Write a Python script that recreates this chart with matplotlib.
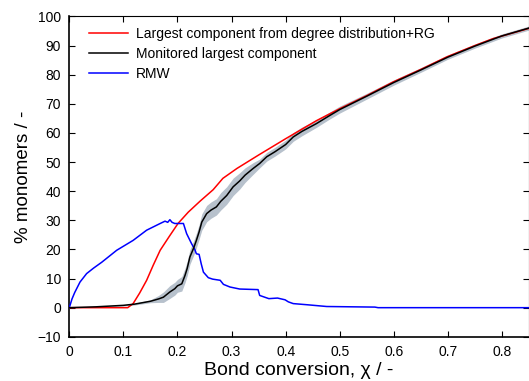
import matplotlib
matplotlib.use("Agg")
import matplotlib.pyplot as plt
import numpy as np

plt.rcParams['font.family'] = ['Liberation Sans', 'DejaVu Sans']

# Largest component from degree distribution + RG (red)
red_x = [0, 0.108, 0.118, 0.13, 0.143, 0.155, 0.168, 0.185, 0.201, 0.22, 0.242, 0.266,
         0.284, 0.31, 0.35, 0.4, 0.457, 0.5, 0.55, 0.599, 0.65, 0.698, 0.75,
         0.784, 0.85]
red_y = [0, 0, 1.4, 5, 9.4, 14.5, 19.7, 24.5, 28.9, 32.8, 36.6, 40.5,
         44.4, 47.8, 52.4, 58.0, 64.2, 68.3, 72.8, 77.5, 81.8, 86.1, 90,
         92.4, 95.9]

# Monitored largest component (black) with spread (grey)
black_x = [0, 0.05, 0.1, 0.12, 0.15, 0.165, 0.174, 0.18, 0.186, 0.195, 0.2, 0.208,
           0.214, 0.218, 0.223, 0.23, 0.235, 0.24, 0.245, 0.25, 0.254, 0.262, 0.272,
           0.28, 0.291, 0.303, 0.315, 0.325, 0.34, 0.352, 0.365, 0.38, 0.4, 0.414,
           0.43, 0.457, 0.48, 0.5, 0.55, 0.6, 0.65, 0.7, 0.75, 0.8, 0.85]
black_y = [0, 0.3, 0.8, 1.2, 2.2, 3.0, 3.6, 4.5, 5.4, 6.5, 7.5, 8.2,
           11.1, 13.5, 17.4, 20.5, 23.1, 26.0, 29.4, 31.0, 32.3, 33.5, 34.6,
           36.5, 38.5, 41.5, 43.5, 45.5, 47.8, 49.5, 51.8, 53.5, 56.0, 58.6,
           60.5, 63.2, 65.8, 68.0, 72.6, 77.3, 81.6, 86.0, 89.8, 93.3, 96.0]
black_err = [0, 0.1, 0.2, 0.3, 0.5, 1.2, 1.8, 2.0, 2.2, 2.2, 2.2, 2.5,
             2.5, 2.5, 2.5, 2.5, 2.5, 2.5, 2.8, 2.8, 2.8, 2.8, 2.8,
             3.0, 3.0, 3.0, 2.8, 2.5, 2.0, 1.5, 1.5, 1.5, 1.5, 1.5,
             1.5, 1.3, 1.2, 1.2, 1.0, 0.9, 0.8, 0.7, 0.7, 0.7, 0.7]

# RMW (blue)
blue_x = [0, 0.005, 0.01, 0.0198, 0.032, 0.045, 0.06, 0.0876, 0.118, 0.143, 0.168,
          0.177, 0.182, 0.186, 0.19, 0.195, 0.211, 0.217, 0.226, 0.232, 0.235, 0.24,
          0.244, 0.248, 0.257, 0.265, 0.279, 0.285, 0.297, 0.315, 0.349, 0.352, 0.369,
          0.385, 0.399, 0.405, 0.414, 0.44, 0.476, 0.52, 0.565, 0.571, 0.85]
blue_y = [0, 3.0, 5.2, 8.8, 11.7, 13.6, 15.6, 19.7, 23.1, 26.6, 28.9,
          29.7, 29.3, 30.2, 29.3, 28.9, 28.9, 25.4, 22.0, 20.0, 18.5, 18.3,
          15.0, 12.2, 10.3, 9.8, 9.4, 8.0, 7.1, 6.4, 6.2, 4.2, 3.1,
          3.3, 2.7, 2.0, 1.4, 1.0, 0.4, 0.3, 0.2, 0, 0]

labels = ["Largest component from degree distribution+RG",
          "Monitored largest component", "RMW"]

fig = plt.figure(figsize=(5.29, 3.81), dpi=100)
ax = fig.add_axes([0.131, 0.116, 0.869, 0.841])

bx = np.array(black_x); by = np.array(black_y); be = np.array(black_err)
ax.fill_between(bx, by - be, by + be, color='#b7c1cc', lw=0, zorder=1)
ax.plot(red_x, red_y, color='#ff0000', lw=1.1, label=labels[0], zorder=3)
ax.plot(black_x, black_y, color='black', lw=1.1, label=labels[1], zorder=4)
ax.plot(blue_x, blue_y, color='#0000ff', lw=1.1, label=labels[2], zorder=3)

ax.set_xlim(0, 0.85)
ax.set_ylim(-10, 100)
ax.set_xticks(np.arange(0, 0.81, 0.1))
ax.set_xticklabels(['0', '0.1', '0.2', '0.3', '0.4', '0.5', '0.6', '0.7', '0.8'])
ax.set_yticks(np.arange(-10, 101, 10))
ax.tick_params(direction='in', top=True, right=True, length=4, width=0.8,
               labelsize=10, pad=6)
for s in ['left', 'bottom']:
    ax.spines[s].set_linewidth(1.2)
for s in ['top', 'right']:
    ax.spines[s].set_linewidth(0.8)

ax.set_xlabel('Bond conversion, χ / -', fontsize=14, labelpad=2)
ax.set_ylabel('% monomers / -', fontsize=13.5, labelpad=4)

ax.legend(loc='upper left', frameon=False, fontsize=10, handlelength=2.8,
          handletextpad=0.6, labelspacing=0.45, borderaxespad=0,
          bbox_to_anchor=(0.03, 0.985))

fig.savefig('out.png', dpi=100)
